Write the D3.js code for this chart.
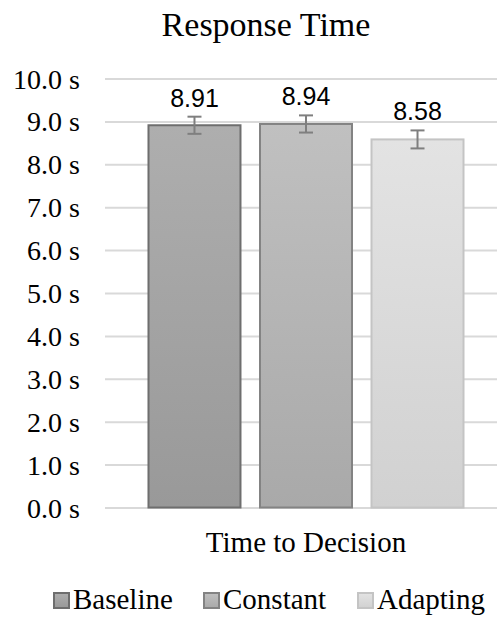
<!DOCTYPE html>
<html>
<head>
<meta charset="utf-8">
<script src="https://cdn.jsdelivr.net/npm/d3@7"></script>
<style>
html,body{margin:0;padding:0;background:#fff;}
svg{display:block;}
</style>
</head>
<body>
<svg id="chart" width="497" height="617"></svg>
<script>
const title = "Response Time";
const category = "Time to Decision";
const series = ["Baseline", "Constant", "Adapting"];
const values = [8.91, 8.94, 8.58];
const errors = [0.2, 0.2, 0.21];
const yTicks = [0, 1, 2, 3, 4, 5, 6, 7, 8, 9, 10];
const fillTop = ["#aeaeae", "#c0c0c0", "#e3e3e3"];
const fillBottom = ["#999999", "#a9a9a9", "#d1d1d1"];
const strokes = ["#6e6e6e", "#838383", "#c4c4c4"];

const svg = d3.select("#chart");
const serif = "'Liberation Serif','Times New Roman',serif";
const sans = "'Liberation Sans',Arial,sans-serif";

const y = d3.scaleLinear().domain([0, 10]).range([507.5, 78.5]);
const x = d3.scaleBand().domain(series).range([105, 507]).paddingInner(0.175).paddingOuter(0.39);

const defs = svg.append("defs");
series.forEach((s, i) => {
  const g = defs.append("linearGradient").attr("id", "g" + i)
    .attr("x1", 0).attr("y1", 0).attr("x2", 0).attr("y2", 1);
  g.append("stop").attr("offset", "0%").attr("stop-color", fillTop[i]);
  g.append("stop").attr("offset", "100%").attr("stop-color", fillBottom[i]);
});

// title
svg.append("text").attr("x", 266).attr("y", 36).attr("text-anchor", "middle")
  .style("font-family", serif).style("font-size", "34px").attr("fill", "#000").text(title);

// gridlines + y axis
const yAxis = d3.axisLeft(y).tickValues(yTicks).tickSize(-(497 - 105)).tickPadding(25)
  .tickFormat(d => d3.format(".1f")(d) + " s");
const ga = svg.append("g").attr("transform", "translate(105,0)").call(yAxis);
ga.select(".domain").remove();
ga.selectAll(".tick line").attr("stroke", "#d9d9d9").attr("stroke-width", 2);
ga.selectAll(".tick text").style("font-family", serif).style("font-size", "28px")
  .attr("fill", "#000").attr("dy", "0.34em");

// bars
svg.append("g").selectAll("rect").data(series).join("rect")
  .attr("x", d => x(d))
  .attr("y", (d, i) => y(values[i]))
  .attr("width", x.bandwidth())
  .attr("height", (d, i) => y(0) - y(values[i]))
  .attr("fill", (d, i) => `url(#g${i})`)
  .attr("stroke", (d, i) => strokes[i])
  .attr("stroke-width", 2);

// error bars
const eg = svg.append("g").attr("stroke", "#7f7f7f").attr("stroke-width", 2);
series.forEach((s, i) => {
  const cx = x(s) + x.bandwidth() / 2;
  eg.append("line").attr("x1", cx).attr("x2", cx).attr("y1", y(values[i] + errors[i])).attr("y2", y(values[i] - errors[i]));
  eg.append("line").attr("x1", cx - 7).attr("x2", cx + 7).attr("y1", y(values[i] + errors[i])).attr("y2", y(values[i] + errors[i]));
  eg.append("line").attr("x1", cx - 7).attr("x2", cx + 7).attr("y1", y(values[i] - errors[i])).attr("y2", y(values[i] - errors[i]));
});

// value labels
svg.append("g").selectAll("text").data(series).join("text")
  .attr("x", d => x(d) + x.bandwidth() / 2)
  .attr("y", (d, i) => y(values[i] + errors[i]) - 10)
  .attr("text-anchor", "middle")
  .style("font-family", sans).style("font-size", "25px").attr("fill", "#000")
  .text((d, i) => d3.format(".2f")(values[i]));

// category label
svg.append("text").attr("x", 306).attr("y", 552).attr("text-anchor", "middle")
  .style("font-family", serif).style("font-size", "29px").attr("fill", "#000").text(category);

// legend
const legX = [53, 203, 357];
const lg = svg.append("g");
series.forEach((s, i) => {
  lg.append("rect").attr("x", legX[i] + 1).attr("y", 593).attr("width", 15).attr("height", 15)
    .attr("fill", `url(#g${i})`).attr("stroke", strokes[i]).attr("stroke-width", 2);
  lg.append("text").attr("x", legX[i] + 20).attr("y", 609)
    .style("font-family", serif).style("font-size", "29px").attr("fill", "#000").text(s);
});
</script>
</body>
</html>
